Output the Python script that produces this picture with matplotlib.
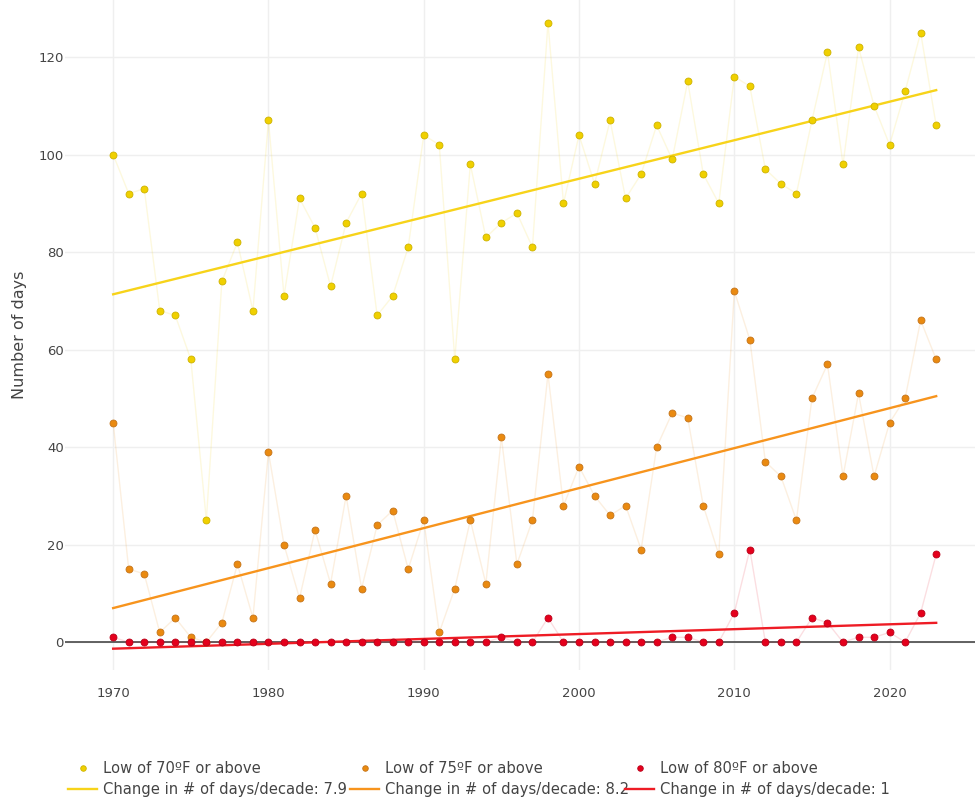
import numpy as np
import matplotlib.pyplot as plt

years = list(range(1970, 2024))

# days per year with a low temperature at or above each threshold
low70 = [100, 92, 93, 68, 67, 58, 25, 74, 82, 68,
         107, 71, 91, 85, 73, 86, 92, 67, 71, 81,
         104, 102, 58, 98, 83, 86, 88, 81, 127, 90,
         104, 94, 107, 91, 96, 106, 99, 115, 96, 90,
         116, 114, 97, 94, 92, 107, 121, 98, 122, 110,
         102, 113, 125, 106]
low75 = [45, 15, 14, 2, 5, 1, 0, 4, 16, 5,
         39, 20, 9, 23, 12, 30, 11, 24, 27, 15,
         25, 2, 11, 25, 12, 42, 16, 25, 55, 28,
         36, 30, 26, 28, 19, 40, 47, 46, 28, 18,
         72, 62, 37, 34, 25, 50, 57, 34, 51, 34,
         45, 50, 66, 58]
low80 = [1, 0, 0, 0, 0, 0, 0, 0, 0, 0,
         0, 0, 0, 0, 0, 0, 0, 0, 0, 0,
         0, 0, 0, 0, 0, 1, 0, 0, 5, 0,
         0, 0, 0, 0, 0, 0, 1, 1, 0, 0,
         6, 19, 0, 0, 0, 5, 4, 0, 1, 1,
         2, 0, 6, 18]

# trend per decade shown in the legend
trend_per_decade = [7.9, 8.2, 1]

names = ["Low of 70\u00baF or above", "Low of 75\u00baF or above", "Low of 80\u00baF or above"]
point_colors = ["#f0d000", "#ea8a10", "#e5001c"]
edge_colors = ["#cdb200", "#c4741a", "#b80018"]
line_colors = ["#f7d31a", "#f7941d", "#ee1c25"]

plt.rcParams["font.family"] = "DejaVu Sans"
fig = plt.figure(figsize=(9.75, 7.99), dpi=100)
ax = fig.add_axes([0.0667, 0.1615, 0.9333, 0.8385])

x = np.array(years)
groups = []
for vals, slope, name, pc, ec, lc in zip([low70, low75, low80], trend_per_decade,
                                         names, point_colors, edge_colors, line_colors):
    y = np.array(vals, dtype=float)
    ax.plot(x, y, color=pc, alpha=0.13, linewidth=1, zorder=2)
    pts, = ax.plot(x, y, linestyle="none", marker="o", markersize=5,
                   markerfacecolor=pc, markeredgecolor=ec, markeredgewidth=0.6,
                   zorder=4, label=name)
    # trend line through the mean point with the stated slope
    k = slope / 10
    fit = y.mean() + k * (x - x.mean())
    tl, = ax.plot([x[0], x[-1]], [fit[0], fit[-1]], color=lc, linewidth=1.7,
                  zorder=3, label="Change in # of days/decade: %g" % slope)
    groups.append([pts, tl])

ax.set_xlim(1966.9, 2025.5)
ax.set_ylim(-5.7, 131.7)
ax.set_xticks([1970, 1980, 1990, 2000, 2010, 2020])
ax.set_yticks([0, 20, 40, 60, 80, 100, 120])
ax.grid(True, color="#efefef", linewidth=1)
ax.set_axisbelow(True)
ax.axhline(0, color="#555555", linewidth=1.3, zorder=1.5)
for s in ax.spines.values():
    s.set_visible(False)
ax.tick_params(length=0, labelsize=9.5, labelcolor="#444444")
ax.tick_params(axis="x", pad=12)
ax.tick_params(axis="y", pad=1)
ax.set_ylabel("Number of days", fontsize=11.5, color="#444444", labelpad=8)

# one legend per threshold, side by side under the plot
for grp, x0 in zip(groups, [68, 350, 625]):
    fig.legend(handles=grp, loc="upper left", bbox_to_anchor=(x0 / 975, 1 - 761 / 799),
               frameon=False, fontsize=10.6, labelcolor="#444444", handlelength=2.0,
               handletextpad=0.35, labelspacing=0.42, borderaxespad=0.0,
               borderpad=0.0, markerscale=0.8)

fig.savefig("out.png", dpi=100, facecolor="white")
